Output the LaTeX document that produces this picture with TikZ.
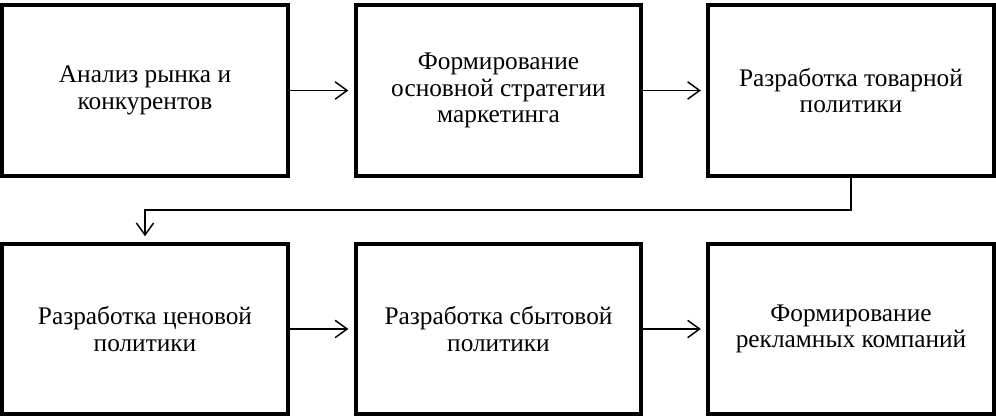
\documentclass[tikz,border=0pt]{standalone}
\usepackage{fontspec}
\setmainfont{Liberation Serif}
\usetikzlibrary{arrows.meta}
\begin{document}
\begin{tikzpicture}[x=0.75pt,y=-0.75pt,
  box/.style={draw=black, line width=3.2pt, fill=white, minimum width=214pt, minimum height=128pt,
    align=center, inner sep=0pt, font=\fontsize{19}{20}\selectfont},
  conn/.style={line width=1.1pt, -{Straight Barb[length=9pt,width=13pt,line width=1.1pt]}, shorten >=4pt}]
\useasboundingbox (0,0) rectangle (996,420);
\node[box] (b1) at (145,90.5) {Анализ рынка и\\конкурентов};
\node[box] (b2) at (498.5,90.5) {Формирование\\основной стратегии\\маркетинга};
\node[box] (b3) at (851,90.5) {Разработка товарной\\политики};
\node[box] (b4) at (145,329) {Разработка ценовой\\политики};
\node[box] (b5) at (498.5,329) {Разработка сбытовой\\политики};
\node[box] (b6) at (851,329) {Формирование\\рекламных компаний};
\coordinate (t1) at (851,210);
\coordinate (t2) at (145,210);
\draw[conn] (b1.east) -- (b2.west);
\draw[conn] (b2.east) -- (b3.west);
\draw[conn] (b4.east) -- (b5.west);
\draw[conn] (b5.east) -- (b6.west);
\draw[conn] (b3.south) -- (t1) -- (t2) -- (b4.north);
\end{tikzpicture}
\end{document}
